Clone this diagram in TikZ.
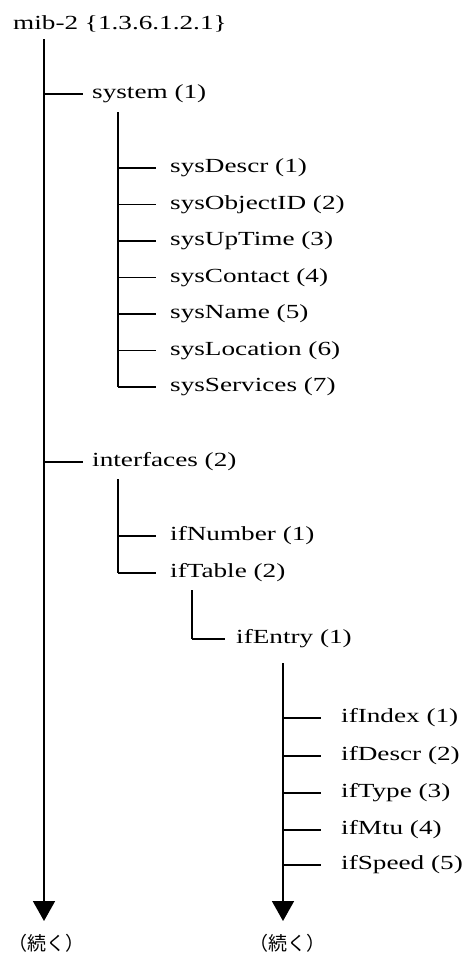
\documentclass[tikz,border=0pt]{standalone}
\usepackage{fontspec}
\setmainfont{Liberation Serif}[FakeStretch=1.36]
\newfontfamily\cjk{Noto Sans CJK JP}
\usetikzlibrary{arrows.meta}
\tikzset{
  lbl/.style={anchor=west, inner sep=0pt, font=\fontsize{20}{22}\selectfont},
  cont/.style={anchor=center, inner sep=0pt, font=\cjk\fontsize{19}{21}\selectfont},
  wire/.style={line width=1.7pt},
  trunk/.style={line width=1.7pt, -{Triangle[width=22pt,length=20pt]}},
}
\begin{document}
\begin{tikzpicture}[x=1pt, y=-1pt]
\useasboundingbox (0,0) rectangle (467,953);

% labels
\node[lbl] (mib) at (13,24) {mib-2 \{1.3.6.1.2.1\}};
\node[lbl] (sys) at (92,94) {system (1)};
\node[lbl] (s1) at (170,168) {sysDescr (1)};
\node[lbl] (s2) at (170,204.5) {sysObjectID (2)};
\node[lbl] (s3) at (170,241) {sysUpTime (3)};
\node[lbl] (s4) at (170,277.5) {sysContact (4)};
\node[lbl] (s5) at (170,314) {sysName (5)};
\node[lbl] (s6) at (170,350.5) {sysLocation (6)};
\node[lbl] (s7) at (170,387) {sysServices (7)};
\node[lbl] (ifs) at (92,462) {interfaces (2)};
\node[lbl] (ifn) at (170,536) {ifNumber (1)};
\node[lbl] (ift) at (170,573) {ifTable (2)};
\node[lbl] (ife) at (236,639) {ifEntry (1)};
\node[lbl] (e1) at (341,718) {ifIndex (1)};
\node[lbl] (e2) at (341,756) {ifDescr (2)};
\node[lbl] (e3) at (341,793) {ifType (3)};
\node[lbl] (e4) at (341,830) {ifMtu (4)};
\node[lbl] (e5) at (341,865) {ifSpeed (5)};
\node[cont] (c1) at (47,943) {（続く）};
\node[cont] (c2) at (287,943) {（続く）};

% vertical stems
\coordinate (t0) at (44,39);
\coordinate (t1) at (44,921);
\coordinate (v1) at (118,112);
\coordinate (v2) at (118,479);
\coordinate (v3) at (192,590);
\coordinate (v4) at (283,663);
\coordinate (t2) at (283,921);

\draw[trunk] (t0) -- (t1);
\draw[wire] (v1) -- (v1 |- s7);
\draw[wire] (v2) -- (v2 |- ift);
\draw[wire] (v3) -- (v3 |- ife);
\draw[trunk] (v4) -- (t2);

% branches
\foreach \n in {sys,ifs}
  \draw[wire] (t0 |- \n) -- ([xshift=-9pt]\n.west);
\foreach \n in {s1,s2,s3,s4,s5,s6,s7,ifn,ift}
  \draw[wire] (v1 |- \n) -- ([xshift=-14pt]\n.west);
\draw[wire] (v3 |- ife) -- ([xshift=-11pt]ife.west);
\foreach \n in {e1,e2,e3,e4,e5}
  \draw[wire] (v4 |- \n) -- ([xshift=-20pt]\n.west);
\end{tikzpicture}
\end{document}
